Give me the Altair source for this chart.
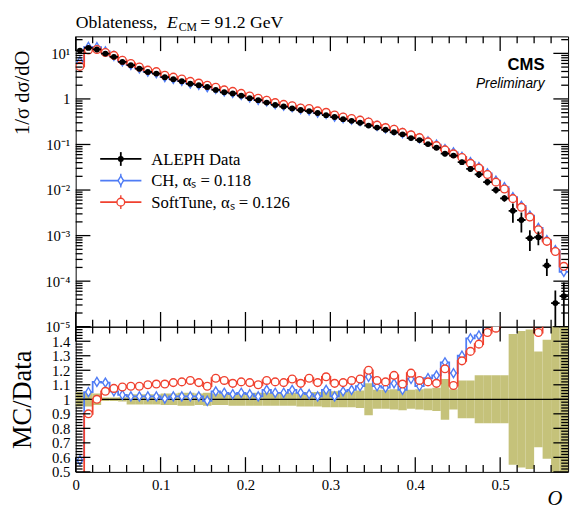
import math
import altair as alt
import pandas as pd

# ---------------- data ----------------
N = 58
bin_lo = [round(0.01 * i, 2) for i in range(N)]
bin_hi = [round(0.01 * (i + 1), 2) for i in range(N)]
bin_c = [round(0.01 * i + 0.005, 3) for i in range(N)]

data_val = [11.5, 13.2, 12.2, 9.9, 8.4, 6.5, 5.5, 4.6, 3.9, 3.6,
            3.0, 2.7, 2.45, 2.15, 2.0, 1.83, 1.58, 1.40, 1.32, 1.18,
            1.04, 0.94, 0.83, 0.74, 0.68, 0.62, 0.57, 0.54, 0.49, 0.44,
            0.40, 0.36, 0.33, 0.30, 0.26, 0.235, 0.21, 0.185, 0.167, 0.138,
            0.125, 0.102, 0.085, 0.063, 0.057, 0.041, 0.029, 0.022, 0.015, 0.0100,
            0.0066, 0.0035, 0.0022, 0.00088, 0.00092, 0.00022, 0.000033, 0.000047]

rel_err = [0.05, 0.05, 0.04, 0.012, 0.012, 0.015, 0.035, 0.035, 0.035, 0.035,
           0.04, 0.04, 0.045, 0.045, 0.04, 0.045, 0.04, 0.04, 0.045, 0.045,
           0.045, 0.045, 0.045, 0.045, 0.045, 0.045, 0.05, 0.05, 0.05, 0.055,
           0.055, 0.055, 0.055, 0.06, 0.11, 0.065, 0.065, 0.07, 0.075, 0.065,
           0.07, 0.075, 0.08, 0.14, 0.07, 0.13, 0.13, 0.165, 0.165, 0.165,
           0.165, 0.45, 0.47, 0.48, 0.33, 0.41, 0.9, 1.0]

ratio_soft = [0.45, 0.90, 1.00, 1.055, 1.075, 1.085, 1.09, 1.09, 1.10, 1.105,
              1.105, 1.115, 1.12, 1.13, 1.115, 1.09, 1.145, 1.13, 1.11, 1.12,
              1.115, 1.10, 1.13, 1.12, 1.115, 1.14, 1.11, 1.145, 1.115, 1.155,
              1.11, 1.115, 1.13, 1.14, 1.20, 1.13, 1.12, 1.165, 1.105, 1.18,
              1.13, 1.12, 1.11, 1.21, 1.095, 1.265, 1.33, 1.38, 1.46, 1.49,
              1.6, 1.85, 1.9, 2.9, 1.46, 3.4, 13.6, 4.5]

ratio_ch = [0.58, 1.05, 1.12, 1.115, 1.055, 1.03, 1.02, 1.02, 1.02, 1.02,
            1.005, 1.02, 1.02, 1.02, 1.02, 0.99, 1.055, 1.045, 1.035, 1.045,
            1.035, 1.02, 1.065, 1.045, 1.045, 1.065, 1.045, 1.035, 1.02, 1.065,
            1.02, 1.055, 1.065, 1.09, 1.155, 1.09, 1.08, 1.11, 1.065, 1.14,
            1.09, 1.145, 1.165, 1.255, 1.18, 1.30, 1.42, 1.44, 1.55, 1.6,
            1.75, 2.0, 2.05, 3.1, 1.6, 3.6, 14.5, 3.4]

legend_labels = ["ALEPH Data", "CH, \u03b1\u209b = 0.118", "SoftTune, \u03b1\u209b = 0.126"]

# tick positions
XMAJ = [0, 0.1, 0.2, 0.3, 0.4, 0.5]
XMIN = [round(0.02 * i, 2) for i in range(1, 29) if i % 5]
YMAJ = [1e-5, 1e-4, 1e-3, 1e-2, 1e-1, 1, 10]
YMIN = [m * 10.0 ** k for k in range(-5, 2) for m in range(2, 10) if m * 10.0 ** k < 23.6]
RMAJ = [round(0.5 + 0.1 * i, 1) for i in range(11)]
RMIN = [round(0.5 + 0.02 * i, 2) for i in range(1, 50) if i % 5]

# ---------------- tables ----------------
df = pd.DataFrame(dict(lo=bin_lo, hi=bin_hi, c=bin_c, data=data_val, rel=rel_err,
                       r_ch=ratio_ch, r_st=ratio_soft))
df["ch"] = df["data"] * df["r_ch"]
df["st"] = df["data"] * df["r_st"]
df["dlo"] = (df["data"] * (1 - df["rel"])).clip(lower=1e-8)
df["dhi"] = df["data"] * (1 + df["rel"])
df["blo"] = 1 - df["rel"]
df["bhi"] = 1 + df["rel"]

rows = []
for i in range(N):
    for k, xv in enumerate((bin_lo[i], bin_hi[i])):
        rows.append(dict(x=xv, k=2 * i + k, ch=df["ch"][i], st=df["st"][i],
                         r_ch=ratio_ch[i], r_st=ratio_soft[i]))
steps = pd.DataFrame(rows)

# ---------------- style ----------------
W, H1, H2 = 502, 296, 148
XMAX = 0.58
YLO, YHI = 1e-5, 23.6
RLO, RHI = 0.5, 1.5
BLUE = "#4f7cf5"
RED = "#f0412f"
BAND = "#c5c27a"
TICK = "#000000"
SERIF = "Liberation Serif"

XS = alt.Scale(domain=[0, XMAX], nice=False, zero=False)
YS = alt.Scale(type="log", domain=[YLO, YHI], nice=False)
RS = alt.Scale(domain=[RLO, RHI], nice=False, zero=False)

LOGLAB = ("datum.value > 5 ? '10\u00b9' : datum.value > 0.5 ? '1' : "
          "datum.value > 0.05 ? '10\u207b\u00b9' : datum.value > 0.005 ? '10\u207b\u00b2' : "
          "datum.value > 0.0005 ? '10\u207b\u00b3' : datum.value > 0.00005 ? '10\u207b\u2074' : '10\u207b\u2075'")

DIAMOND = "M0,-1.25L0.75,0L0,1.25L-0.75,0Z"
MAJ, MIN = 15, 7  # tick lengths in px


def label_axis(orient, values, **kw):
    base = dict(orient=orient, values=values, ticks=False, grid=False, domain=False,
                labelOverlap=False, labelFlush=False, labelPadding=6)
    base.update(kw)
    return alt.Axis(**base)


def tick_table(H, ymaj, ymin, log):
    """Inward frame ticks as two-point segments, in data units of the panel's scales."""
    if log:
        dec = math.log10(YHI / YLO) / H
        up = lambda v, px: v * 10 ** (dec * px)
        dn = lambda v, px: v / 10 ** (dec * px)
        lo, hi = YLO, YHI
    else:
        dec = (RHI - RLO) / H
        up = lambda v, px: v + dec * px
        dn = lambda v, px: v - dec * px
        lo, hi = RLO, RHI
    segs = []
    for vals, px in ((XMAJ, MAJ), (XMIN, MIN)):
        for v in vals:
            segs.append(((v, lo), (v, up(lo, px))))
            segs.append(((v, dn(hi, px)), (v, hi)))
    for vals, px in ((ymaj, MAJ), (ymin, MIN)):
        dx = XMAX * px / W
        for v in vals:
            segs.append(((0.0, v), (dx, v)))
            segs.append(((XMAX - dx, v), (XMAX, v)))
    out = []
    for sid, (a, b) in enumerate(segs):
        out.append(dict(sid=sid, k=0, tx=a[0], ty=a[1]))
        out.append(dict(sid=sid, k=1, tx=b[0], ty=b[1]))
    return pd.DataFrame(out)


def tick_layer(H, ymaj, ymin, yscale, log):
    return alt.Chart(tick_table(H, ymaj, ymin, log)).mark_line(
        color=TICK, strokeWidth=1.3, opacity=1, interpolate="linear").encode(
        x=alt.X("tx:Q", scale=XS, axis=None),
        y=alt.Y("ty:Q", scale=yscale, axis=None),
        detail="sid:N", order="k:Q")


# ---------------- top panel ----------------
t_blue_line = alt.Chart(steps).mark_line(color=BLUE, strokeWidth=1.8, clip=True).encode(
    x=alt.X("x:Q", scale=XS, axis=None),
    y=alt.Y("ch:Q", scale=YS, axis=label_axis("left", YMAJ, labelExpr=LOGLAB,
                                              title="1/\u03c3 d\u03c3/dO", titleX=-48, titleY=57,
                                              titleAngle=270, titleAlign="center",
                                              titleBaseline="alphabetic", titleFontSize=21)),
    order="k:Q")
t_blue_pts = alt.Chart(df).mark_point(shape=DIAMOND, size=55, filled=True, fill="white",
                                      stroke=BLUE, strokeWidth=1.4, opacity=1, clip=True).encode(
    x=alt.X("c:Q", scale=XS, axis=None), y=alt.Y("ch:Q", scale=YS, axis=None))
t_red_line = alt.Chart(steps).mark_line(color=RED, strokeWidth=1.8, clip=True).encode(
    x=alt.X("x:Q", scale=XS, axis=None), y=alt.Y("st:Q", scale=YS, axis=None), order="k:Q")
t_red_pts = alt.Chart(df).mark_point(shape="circle", size=62, filled=True, fill="white",
                                     stroke=RED, strokeWidth=1.4, opacity=1, clip=True).encode(
    x=alt.X("c:Q", scale=XS, axis=None), y=alt.Y("st:Q", scale=YS, axis=None))
t_err_v = alt.Chart(df).mark_rule(color="black", strokeWidth=1.8, clip=True).encode(
    x=alt.X("c:Q", scale=XS, axis=None),
    y=alt.Y("dlo:Q", scale=YS, axis=None), y2="dhi:Q")
t_err_h = alt.Chart(df).mark_rule(color="black", strokeWidth=1.8, clip=True).encode(
    x=alt.X("lo:Q", scale=XS, axis=None), x2="hi:Q",
    y=alt.Y("data:Q", scale=YS, axis=None))
t_pts = alt.Chart(df).mark_point(shape="circle", size=36, filled=True, color="black",
                                 opacity=1, clip=True).encode(
    x=alt.X("c:Q", scale=XS, axis=None), y=alt.Y("data:Q", scale=YS, axis=None))

# legend
LY = [125, 147, 169]
LX0, LX1, LXM, LXT = 25, 67, 46, 77
one = pd.DataFrame({"t": [""]})
leg = []
for i, col in enumerate(["black", BLUE, RED]):
    leg.append(alt.Chart(one).mark_rule(color=col, strokeWidth=1.8).encode(
        x=alt.value(LX0), x2=alt.value(LX1), y=alt.value(LY[i])))
    leg.append(alt.Chart(one).mark_rule(color=col, strokeWidth=1.4 if i else 1.8).encode(
        x=alt.value(LXM), y=alt.value(LY[i] - 7), y2=alt.value(LY[i] + 7)))
leg.append(alt.Chart(one).mark_point(shape="circle", size=36, filled=True, color="black",
                                     opacity=1).encode(x=alt.value(LXM), y=alt.value(LY[0])))
leg.append(alt.Chart(one).mark_point(shape=DIAMOND, size=55, filled=True, fill="white",
                                     stroke=BLUE, strokeWidth=1.4, opacity=1).encode(
    x=alt.value(LXM), y=alt.value(LY[1])))
leg.append(alt.Chart(one).mark_point(shape="circle", size=62, filled=True, fill="white",
                                     stroke=RED, strokeWidth=1.4, opacity=1).encode(
    x=alt.value(LXM), y=alt.value(LY[2])))
for i, lab in enumerate(legend_labels):
    leg.append(alt.Chart(pd.DataFrame({"t": [lab]})).mark_text(
        align="left", baseline="middle", font=SERIF, fontSize=17, color="black").encode(
        x=alt.value(LXT), y=alt.value(LY[i] + 1), text="t:N"))


def txt(s, x, y, **kw):
    style = dict(align="left", baseline="alphabetic", font=SERIF, fontSize=18, color="black")
    style.update(kw)
    return alt.Chart(pd.DataFrame({"t": [s]})).mark_text(**style).encode(
        x=alt.value(x), y=alt.value(y), text="t:N")


ann = [
    txt("Oblateness,", 0, -9),
    txt("E", 93, -9, fontStyle="italic"),
    txt("CM", 105, -5, fontSize=12),
    txt("= 91.2 GeV", 127, -9),
    txt("CMS", 478, 34, align="right", font="Liberation Sans", fontWeight="bold", fontSize=17),
    txt("Preliminary", 478, 53, align="right", font="Liberation Sans", fontStyle="italic",
        fontSize=14),
]

top = alt.layer(t_blue_line, t_blue_pts, t_red_line, t_red_pts, t_err_v, t_err_h, t_pts,
                tick_layer(H1, YMAJ, YMIN, YS, True), *leg, *ann).resolve_axis(
    x="independent", y="independent").properties(width=W, height=H1)

# ---------------- ratio panel ----------------
r_band = alt.Chart(df).mark_rect(color=BAND, opacity=1, clip=True).encode(
    x=alt.X("lo:Q", scale=XS, axis=label_axis("bottom", XMAJ, format=".1~f",
                                              title="O", titleX=488, titleY=33,
                                              titleAlign="center", titleBaseline="alphabetic",
                                              titleFontStyle="italic", titleFontSize=21)),
    x2="hi:Q",
    y=alt.Y("blo:Q", scale=RS, axis=label_axis("left", RMAJ, format=".1~f",
                                               labelExpr="datum.value > 1.45 ? '' : datum.label",
                                               title="MC/Data", titleX=-46, titleY=74,
                                               titleAngle=270, titleAlign="center",
                                               titleBaseline="alphabetic", titleFontSize=27)),
    y2="bhi:Q")
r_one = alt.Chart(pd.DataFrame({"one": [1.0]})).mark_rule(color="black", strokeWidth=1.2).encode(
    y=alt.Y("one:Q", scale=RS, axis=None))
r_blue_line = alt.Chart(steps).mark_line(color=BLUE, strokeWidth=1.8, clip=True).encode(
    x=alt.X("x:Q", scale=XS, axis=None), y=alt.Y("r_ch:Q", scale=RS, axis=None), order="k:Q")
r_blue_pts = alt.Chart(df).mark_point(shape=DIAMOND, size=55, filled=True, fill="white",
                                      stroke=BLUE, strokeWidth=1.4, opacity=1, clip=True).encode(
    x=alt.X("c:Q", scale=XS, axis=None), y=alt.Y("r_ch:Q", scale=RS, axis=None))
r_red_line = alt.Chart(steps).mark_line(color=RED, strokeWidth=1.8, clip=True).encode(
    x=alt.X("x:Q", scale=XS, axis=None), y=alt.Y("r_st:Q", scale=RS, axis=None), order="k:Q")
r_red_pts = alt.Chart(df).mark_point(shape="circle", size=62, filled=True, fill="white",
                                     stroke=RED, strokeWidth=1.4, opacity=1, clip=True).encode(
    x=alt.X("c:Q", scale=XS, axis=None), y=alt.Y("r_st:Q", scale=RS, axis=None))

ratio = alt.layer(r_band, r_one, r_blue_line, r_blue_pts, r_red_line, r_red_pts,
                  tick_layer(H2, RMAJ, RMIN, RS, False)).resolve_axis(
    x="independent", y="independent").properties(width=W, height=H2)

chart = alt.vconcat(top, ratio, spacing=0, bounds="flush").properties(padding=0).configure_view(
    stroke="black", strokeWidth=1).configure_axis(
    grid=False, domain=False, labelFont=SERIF, labelFontSize=15, labelColor="black",
    titleFont=SERIF, titleColor="black", titleFontWeight="normal")

chart.save("out.html", embed_options={"renderer": "svg", "actions": False})
